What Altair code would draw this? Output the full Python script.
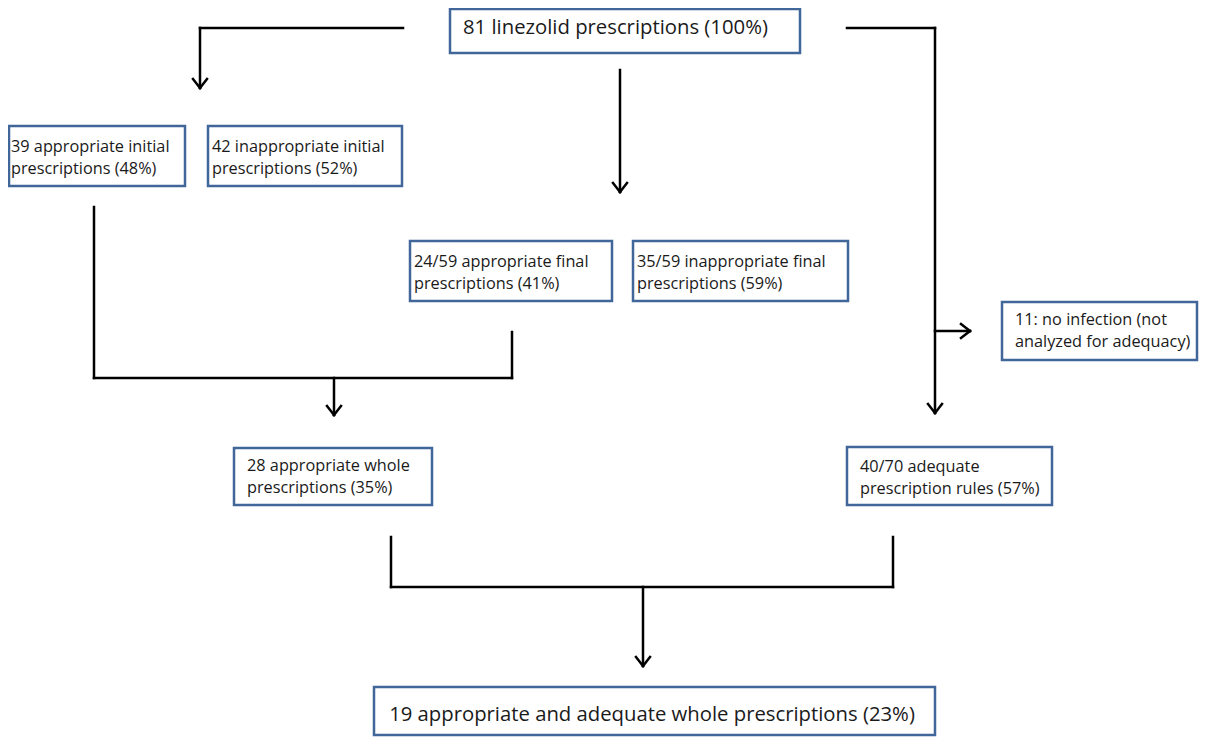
import altair as alt
import pandas as pd

# ---- content ----
box_text = [
    "81 linezolid prescriptions (100%)",
    "39 appropriate initial\nprescriptions (48%)",
    "42 inappropriate initial\nprescriptions (52%)",
    "24/59 appropriate final\nprescriptions (41%)",
    "35/59 inappropriate final\nprescriptions (59%)",
    "11: no infection (not\nanalyzed for adequacy)",
    "28 appropriate whole\nprescriptions (35%)",
    "40/70 adequate\nprescription rules (57%)",
    "19 appropriate and adequate whole prescriptions (23%)",
]

# ---- layout (page pixel coordinates) ----
box_x0 = [450, 9, 208, 410, 633, 1002, 234, 847, 374]
box_x1 = [800, 185, 402, 612, 848, 1197, 432, 1052, 935]
box_y0 = [9, 126, 126, 241, 241, 302, 448, 447, 687]
box_y1 = [53, 186, 186, 301, 301, 360, 505, 505, 735]
text_x = [463, 11, 212, 414, 637, 1015, 247, 860, 652]
text_y = [28, 147, 147, 262, 262, 320, 466, 467, 715]
text_size = [20.3, 16.3, 16.3, 16.3, 16.3, 16.3, 16.3, 16.3, 20.3]
text_align = ["left"] * 8 + ["center"]

# connector segments (x, y, x2, y2)
seg_x = [403, 200, 847, 935, 935, 620, 94, 94, 512, 334, 391, 391, 893, 643]
seg_y = [28, 28, 28, 28, 331, 70, 207, 378, 332, 378, 537, 587, 537, 587]
seg_x2 = [200, 200, 935, 935, 970, 620, 94, 512, 512, 334, 391, 893, 893, 643]
seg_y2 = [28, 88, 28, 413, 331, 192, 378, 378, 378, 415, 587, 587, 587, 666]

# arrow heads: tip position and direction
tip_x = [200, 935, 970, 620, 334, 643]
tip_y = [88, 413, 331, 192, 415, 666]
tip_dir = ["down", "down", "right", "down", "down", "down"]

# build tables
boxes = pd.DataFrame(dict(x0=box_x0, x1=box_x1, y0=box_y0, y1=box_y1))
texts = pd.DataFrame(dict(label=box_text, x=text_x, y=text_y, size=text_size, align=text_align))
segs = [dict(x=a, y=b, x2=c, y2=d) for a, b, c, d in zip(seg_x, seg_y, seg_x2, seg_y2)]
h = 7
for tx, ty, d in zip(tip_x, tip_y, tip_dir):
    if d == "down":
        segs.append(dict(x=tx - h, y=ty - 9, x2=tx, y2=ty))
        segs.append(dict(x=tx + h, y=ty - 9, x2=tx, y2=ty))
    else:
        segs.append(dict(x=tx - 9, y=ty - h, x2=tx, y2=ty))
        segs.append(dict(x=tx - 9, y=ty + h, x2=tx, y2=ty))
segs = pd.DataFrame(segs)

W, H = 1191, 729
xs = alt.Scale(domain=[8, 8 + W], nice=False, zero=False)
ys = alt.Scale(domain=[8, 8 + H], nice=False, zero=False, reverse=True)

lines = alt.Chart(segs).mark_rule(color="black", strokeWidth=2.5, strokeCap="square").encode(
    x=alt.X("x:Q", scale=xs, axis=None),
    y=alt.Y("y:Q", scale=ys, axis=None),
    x2="x2:Q",
    y2="y2:Q",
)

rects = alt.Chart(boxes).mark_rect(fill="white", stroke="#41679A", strokeWidth=2.5).encode(
    x=alt.X("x0:Q", scale=xs, axis=None),
    x2="x1:Q",
    y=alt.Y("y0:Q", scale=ys, axis=None),
    y2="y1:Q",
)

def text_layer(df, align):
    return alt.Chart(df).mark_text(
        align=align, baseline="middle", lineBreak="\n", lineHeight=22,
        font="Open Sans", color="#1a1a1a",
    ).encode(
        x=alt.X("x:Q", scale=xs, axis=None),
        y=alt.Y("y:Q", scale=ys, axis=None),
        text="label:N",
        size=alt.Size("size:Q", scale=None, legend=None),
    )

t_left = text_layer(texts[texts["align"] == "left"], "left")
t_center = text_layer(texts[texts["align"] == "center"], "center")

chart = alt.layer(lines, rects, t_left, t_center).properties(
    width=W, height=H, padding=0, autosize=alt.AutoSizeParams(type="none"),
    background="white",
).configure_view(stroke=None)

chart.save("out.html", embed_options={"renderer": "svg", "actions": False})
